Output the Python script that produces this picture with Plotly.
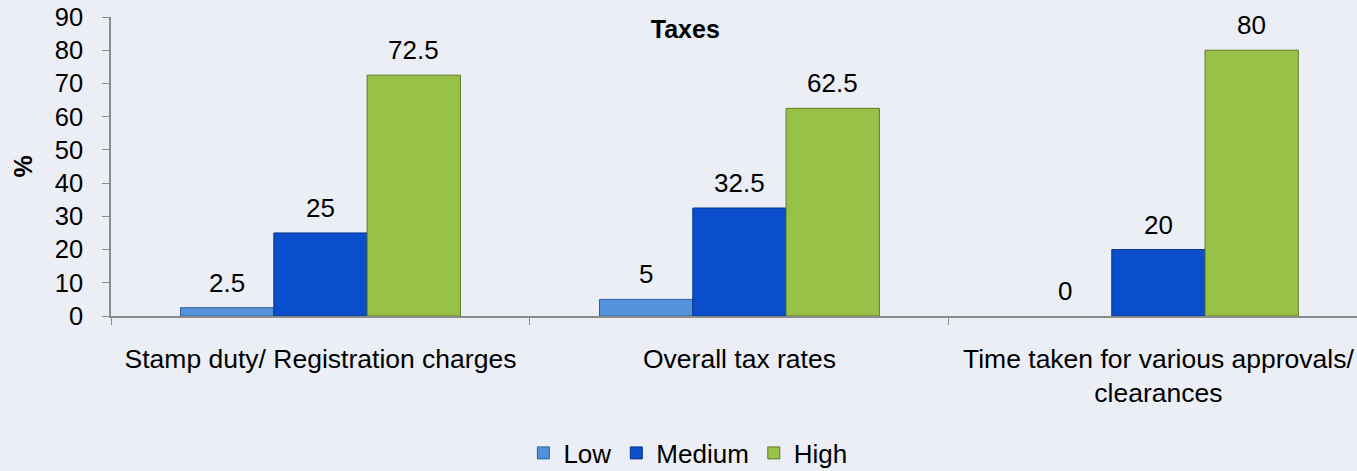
import plotly.graph_objects as go

categories = ["Stamp duty/ Registration charges", "Overall tax rates",
              "Time taken for various approvals/<br>clearances"]
low = [2.5, 5, 0]
medium = [25, 32.5, 20]
high = [72.5, 62.5, 80]
series = [("Low", low), ("Medium", medium), ("High", high)]

fill = {"Low": "#5592DC", "Medium": "#0A4ECC", "High": "#98C148"}
edge = {"Low": "#2F5F9E", "Medium": "#06358C", "High": "#5E7A26"}

W, H = 1357, 471
ML, MR, MT, MB = 111, 0, 17, 155
x_end = 2.474
bargap = 0.332
font = "Liberation Sans, Arial, sans-serif"

fig = go.Figure()
for name, vals in series:
    fig.add_trace(go.Bar(
        name=name, x=categories, y=vals,
        marker=dict(color=fill[name],
                    line=dict(color=edge[name], width=[1 if v > 0 else 0 for v in vals])),
    ))

# value labels above bars
cat_px = (W - ML - MR) / (x_end + 0.5)
bar_px = cat_px * (1 - bargap) / 3
for i, (name, vals) in enumerate(series):
    for c, v in zip(categories, vals):
        fig.add_annotation(x=c, y=v, text=str(v), showarrow=False,
                           xshift=(i - 1) * bar_px, yshift=25, yanchor="middle",
                           font=dict(size=26, color="#000000", family=font))

fig.add_annotation(text="<b>%</b>", xref="paper", yref="paper", x=0, y=0.5,
                   xshift=-89, xanchor="center", yanchor="middle", textangle=-90,
                   showarrow=False, font=dict(size=25, color="#000000", family=font))

fig.update_layout(
    width=W, height=H,
    margin=dict(l=ML, r=MR, t=MT, b=MB),
    paper_bgcolor="#EBEEF4", plot_bgcolor="rgba(0,0,0,0)",
    barmode="group", bargap=bargap, bargroupgap=0,
    font=dict(family=font, size=26, color="#000000"),
    title=dict(text="<b>Taxes</b>", xref="container", x=0.505, xanchor="center",
               yref="container", y=1 - 29 / H, yanchor="middle",
               font=dict(size=25, family=font, color="#000000")),
    legend=dict(orientation="h", xref="paper", x=0.463, xanchor="center",
                yref="container", y=1 - 453 / H, yanchor="middle",
                font=dict(size=26), bgcolor="rgba(0,0,0,0)"),
    showlegend=True,
)
fig.update_xaxes(range=[-0.5, x_end], showline=True, linecolor="#8C8C8C", linewidth=1.5,
                 ticks="outside", tickson="boundaries", ticklen=7, tickcolor="#8C8C8C",
                 ticklabelstandoff=18, showgrid=False, tickfont=dict(size=26.5))
fig.update_yaxes(range=[0, 90], dtick=10, showline=True, linecolor="#8C8C8C", linewidth=1.5,
                 ticks="outside", ticklen=7, tickcolor="#8C8C8C", ticklabelstandoff=14,
                 showgrid=False, zeroline=False, tickfont=dict(size=25.5))

fig.write_html("out.html", config={"displayModeBar": False},
               post_script="document.body.style.margin='0';")
